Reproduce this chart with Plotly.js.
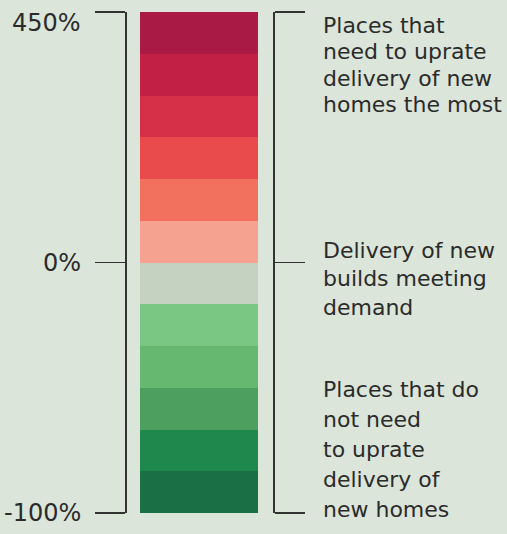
<!DOCTYPE html>
<html>
<head>
<meta charset="utf-8">
<script src="https://cdn.plot.ly/plotly-3.0.1.min.js"></script>
<style>html,body{margin:0;padding:0;background:#dbe5da;}</style>
</head>
<body>
<div id="chart" style="width:507px;height:534px;"></div>
<script>
// Colour bins, bottom (-100%) to top (450%)
const binColors = ["#1b6f45","#1f884c","#4c9f5e","#66b76f","#7ac784","#c6d2c1",
                   "#f6a291","#f2715e","#e94b4d","#d62f48","#c32045","#a91b44"];
const binSize = [1,1,1,1,1,1,1,1,1,1,1,1];
const tickPositions = [0, 6, 12];
const tickLabels = ["-100%", "0%", "450%"];
const topText = ["Places that", "need to uprate", "delivery of new", "homes the most"];
const midText = ["Delivery of new", "builds meeting", "demand"];
const bottomText = ["Places that do", "not need", "to uprate", "delivery of", "new homes"];

const W = 507, H = 534;
const mTop = 12, mBot = 21;
const plotH = H - mTop - mBot;
const nBins = binColors.length;
const pxPerBin = plotH / nBins;
// x mapping: bar spans px 140..258
const barL = 140, barR = 258, unit = barR - barL;
const x0 = -0.5 - barL / unit, x1 = 0.5 + (W - barR) / unit;
const pxToX = p => x0 + p / unit;
const pxToY = p => (H - mBot - p) / pxPerBin;

const base = binSize.map((_, i) => binSize.slice(0, i).reduce((a, b) => a + b, 0));

const labelFont = {family: "'DejaVu Sans', sans-serif", size: 24, color: "#2b2b2b"};
const textFont = {family: "'DejaVu Sans', sans-serif", size: 22, color: "#2b2b2b"};

const annotations = [];
// Left labels
tickLabels.forEach((t, i) => {
  annotations.push({x: pxToX(82), y: tickPositions[i], xref: "x", yref: "y", text: t,
    showarrow: false, xanchor: "right", yanchor: "middle", font: labelFont, borderpad: 0,
    yshift: i === tickLabels.length - 1 ? -11 : 0});
});
function block(lines, firstCenterPx, gap) {
  lines.forEach((t, i) => {
    annotations.push({x: pxToX(322), y: pxToY(firstCenterPx + i * gap), xref: "x", yref: "y",
      text: t, showarrow: false, xanchor: "left", yanchor: "middle", font: textFont, borderpad: 0});
  });
}
block(topText, 25, 26.5);
block(midText, 250, 28.5);
block(bottomText, 389, 30);

const axisCommon = {
  range: [0, nBins], showgrid: false, zeroline: false, showline: true,
  linecolor: "#333", linewidth: 1.5, ticks: "outside", ticklen: 30, tickwidth: 1.6,
  tickcolor: "#333", tickvals: tickPositions, ticktext: tickLabels, showticklabels: false,
  fixedrange: true
};

const data = [
  {type: "bar", x: binSize.map(() => 0), y: binSize, base: base, width: 1,
   marker: {color: binColors, line: {width: 0}}, hoverinfo: "skip", showlegend: false},
  {type: "scatter", x: [0], y: [0], yaxis: "y2", mode: "markers",
   marker: {opacity: 0}, hoverinfo: "skip", showlegend: false}
];

const layout = {
  width: W, height: H,
  margin: {l: 0, r: 0, t: mTop, b: mBot},
  paper_bgcolor: "#dbe5da", plot_bgcolor: "#dbe5da",
  barmode: "overlay", bargap: 0,
  xaxis: {range: [x0, x1], visible: false, fixedrange: true},
  yaxis: Object.assign({}, axisCommon, {anchor: "free", position: 125 / W, side: "left"}),
  yaxis2: Object.assign({}, axisCommon, {anchor: "free", position: 273 / W, side: "right", overlaying: "y"}),
  annotations: annotations,
  showlegend: false
};

Plotly.newPlot("chart", data, layout, {displayModeBar: false, staticPlot: true});
</script>
</body>
</html>
